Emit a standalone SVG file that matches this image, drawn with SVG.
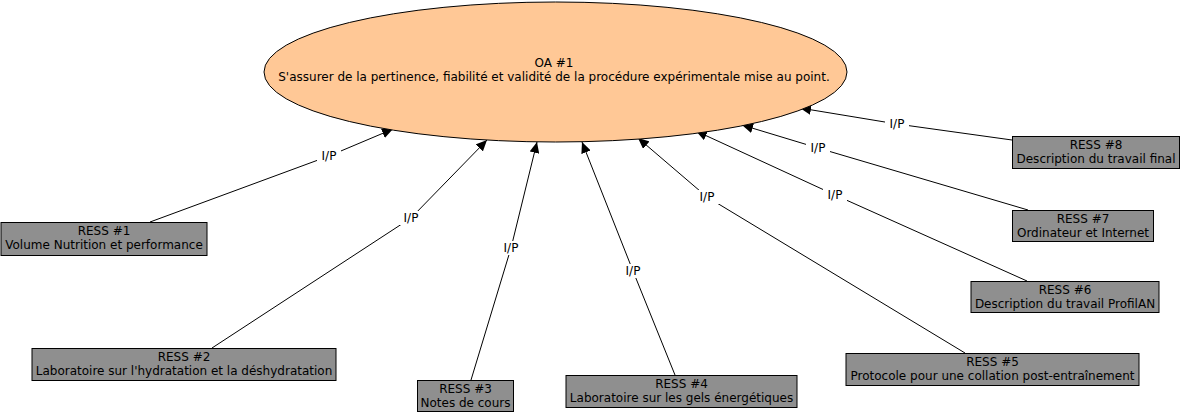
<svg xmlns="http://www.w3.org/2000/svg" width="1182" height="414" viewBox="0 0 1182 414">
<style>
text{font-family:"DejaVu Sans",Verdana,sans-serif;font-size:12px;fill:#000;text-anchor:middle}
.box{fill:#8f8f8f;stroke:#000;stroke-width:1}
.oa{fill:#ffc896;stroke:#000;stroke-width:1}
.edge{stroke:#000;stroke-width:1;fill:none;marker-end:url(#arr)}
.lbg{fill:#fff}
</style>
<defs>
<marker id="arr" markerUnits="userSpaceOnUse" markerWidth="12" markerHeight="10" refX="11" refY="5" orient="auto">
<path d="M0,0 L11,5 L0,10 z" fill="#000"/>
</marker>
</defs>
<rect width="1182" height="414" fill="#fff"/>
<g id="connectors">
<polyline class="edge" points="150,222 329,156 393,129"/>
<polyline class="edge" points="212,348 411,218 487,140"/>
<polyline class="edge" points="471,380 511,248 537,142"/>
<polyline class="edge" points="675,375 633,271 582,142"/>
<polyline class="edge" points="965,353 707,197 638,138"/>
<polyline class="edge" points="1027,281 835,195 696,131"/>
<polyline class="edge" points="1028,210 818,148 742,125"/>
<polyline class="edge" points="1012,140 897,124 800,108"/>
<g id="labels">
<rect class="lbg" x="317" y="149" width="24" height="14"/><text x="329" y="160">I/P</text>
<rect class="lbg" x="399" y="211" width="24" height="14"/><text x="411" y="222">I/P</text>
<rect class="lbg" x="499" y="241" width="24" height="14"/><text x="511" y="252">I/P</text>
<rect class="lbg" x="621" y="264" width="24" height="14"/><text x="633" y="275">I/P</text>
<rect class="lbg" x="695" y="190" width="24" height="14"/><text x="707" y="201">I/P</text>
<rect class="lbg" x="823" y="188" width="24" height="14"/><text x="835" y="199">I/P</text>
<rect class="lbg" x="806" y="141" width="24" height="14"/><text x="818" y="152">I/P</text>
<rect class="lbg" x="885" y="117" width="24" height="14"/><text x="897" y="128">I/P</text>
</g>
</g>
<g id="OA1">
<ellipse class="oa" cx="555.5" cy="72" rx="291.5" ry="70"/>
<text x="554" y="67">OA #1</text>
<text x="554" y="81">S'assurer de la pertinence, fiabilité et validité de la procédure expérimentale mise au point.</text>
</g>
<g id="RESS1">
<rect class="box" x="1" y="222.5" width="206" height="33"/>
<text x="104" y="235">RESS #1</text>
<text x="104" y="249">Volume Nutrition et performance</text>
</g>
<g id="RESS2">
<rect class="box" x="32" y="348.5" width="304" height="32"/>
<text x="184" y="361">RESS #2</text>
<text x="184" y="375">Laboratoire sur l'hydratation et la déshydratation</text>
</g>
<g id="RESS3">
<rect class="box" x="417.5" y="380.5" width="96" height="31"/>
<text x="465.5" y="393">RESS #3</text>
<text x="465.5" y="407">Notes de cours</text>
</g>
<g id="RESS4">
<rect class="box" x="566" y="375.5" width="231" height="32"/>
<text x="681.5" y="388">RESS #4</text>
<text x="681.5" y="402">Laboratoire sur les gels énergétiques</text>
</g>
<g id="RESS5">
<rect class="box" x="846" y="353.5" width="293" height="32"/>
<text x="992.5" y="366">RESS #5</text>
<text x="992.5" y="380">Protocole pour une collation post-entraînement</text>
</g>
<g id="RESS6">
<rect class="box" x="971" y="281.5" width="188" height="31"/>
<text x="1065" y="294">RESS #6</text>
<text x="1065" y="308">Description du travail ProfilAN</text>
</g>
<g id="RESS7">
<rect class="box" x="1012.5" y="210.5" width="141" height="31"/>
<text x="1083" y="223">RESS #7</text>
<text x="1083" y="237">Ordinateur et Internet</text>
</g>
<g id="RESS8">
<rect class="box" x="1012.5" y="136.5" width="167" height="32"/>
<text x="1096" y="149">RESS #8</text>
<text x="1096" y="163">Description du travail final</text>
</g>
</svg>
